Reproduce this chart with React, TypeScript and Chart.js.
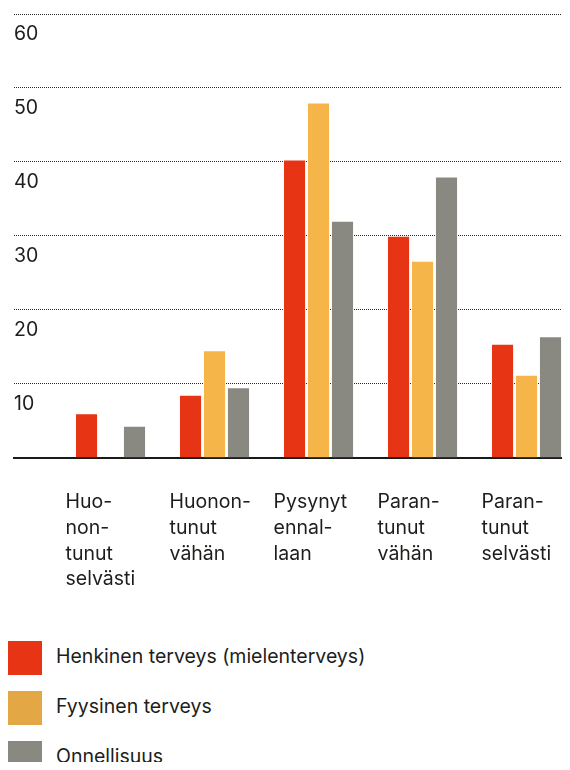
import React, { useEffect, useRef } from "react";
import { Chart, registerables } from "chart.js";

Chart.register(...registerables);

const CATEGORIES: string[][] = [
  ["Huo-", "non-", "tunut", "selvästi"],
  ["Huonon-", "tunut", "vähän"],
  ["Pysynyt", "ennal-", "laan"],
  ["Paran-", "tunut", "vähän"],
  ["Paran-", "tunut", "selvästi"],
];

const SERIES_NAMES = ["Henkinen terveys (mielenterveys)", "Fyysinen terveys", "Onnellisuus"];
const MENTAL = [5.9, 8.4, 40.2, 29.9, 15.3];
const PHYSICAL = [0, 14.4, 47.9, 26.5, 11.1];
const HAPPINESS = [4.2, 9.4, 31.9, 37.9, 16.3];

const BAR_COLORS = ["#E63414", "#F6B548", "#8A8981"];
const LEGEND_COLORS = ["#E63414", "#E3A746", "#8A8981"];

const Y_MIN = 0;
const Y_MAX = 60;
const Y_STEP = 10;

const FONT = "Inter, 'Noto Sans', sans-serif";
const TEXT = "#1d1d1b";

export default function App() {
  const ref = useRef<HTMLCanvasElement | null>(null);

  useEffect(() => {
    if (!ref.current) return;
    const series = [MENTAL, PHYSICAL, HAPPINESS];
    const chart = new Chart(ref.current, {
      type: "bar",
      data: {
        datasets: series.map((vals, s) => ({
          label: SERIES_NAMES[s],
          data: vals.map((y, i) => ({ x: i + 1, y })),
          backgroundColor: BAR_COLORS[s],
          borderWidth: 0,
          inflateAmount: 0,
          categoryPercentage: 0.692,
          barPercentage: 0.88,
        })),
      },
      options: {
        animation: false,
        responsive: true,
        maintainAspectRatio: false,
        layout: { padding: { top: 14, left: 14, right: 0, bottom: 8 } },
        plugins: { legend: { display: false }, tooltip: { enabled: false } },
        scales: {
          x: {
            type: "linear",
            offset: false,
            min: 0.072,
            max: 5.418,
            afterBuildTicks: (scale: any) => {
              scale.ticks = CATEGORIES.map((_, i) => ({ value: i + 1 }));
            },
            afterFit: (scale: any) => {
              scale.paddingLeft = 0;
              scale.paddingRight = 0;
            },
            grid: {
              display: true,
              offset: false,
              drawOnChartArea: false,
              drawTicks: true,
              tickLength: 32,
              tickColor: "rgba(0,0,0,0)",
            },
            border: { display: true, color: "#1a1a1a", width: 2 },
            ticks: {
              align: "start",
              labelOffset: -45,
              padding: 0,
              autoSkip: false,
              maxRotation: 0,
              minRotation: 0,
              color: TEXT,
              font: { family: FONT, size: 19.5, lineHeight: 1.31 },
              callback: (v: any) => CATEGORIES[Math.round(Number(v)) - 1] ?? "",
            },
          },
          y: {
            min: Y_MIN,
            max: Y_MAX,
            grid: {
              drawTicks: false,
              lineWidth: 1,
              color: (ctx: any) =>
                ctx.tick && ctx.tick.value === 0 ? "rgba(0,0,0,0)" : "#2a2a2a",
            },
            border: { display: false, dash: [1, 1] },
            ticks: {
              stepSize: Y_STEP,
              mirror: true,
              padding: 0,
              labelOffset: 20,
              color: TEXT,
              font: { family: FONT, size: 19.5 },
              callback: (v: any) => (Number(v) === 0 ? "" : String(v)),
            },
          },
        },
      },
    } as any);
    return () => chart.destroy();
  }, []);

  return (
    <div
      style={{
        margin: "-8px -8px 0 -8px",
        height: 762,
        position: "relative",
        overflow: "hidden",
        fontFamily: FONT,
        color: TEXT,
      }}
    >
      <div style={{ position: "absolute", left: 0, top: 0, width: 570, height: 600 }}>
        <canvas ref={ref} />
      </div>
      <div style={{ position: "absolute", left: 8, top: 641 }}>
        {SERIES_NAMES.map((name, i) => (
          <div
            key={name}
            style={{ display: "flex", alignItems: "center", height: 34, marginBottom: 16 }}
          >
            <div
              style={{ width: 34, height: 34, background: LEGEND_COLORS[i], marginRight: 14, flex: "none" }}
            />
            <span style={{ fontSize: 19.5, position: "relative", top: -2, whiteSpace: "nowrap" }}>
              {name}
            </span>
          </div>
        ))}
      </div>
    </div>
  );
}
